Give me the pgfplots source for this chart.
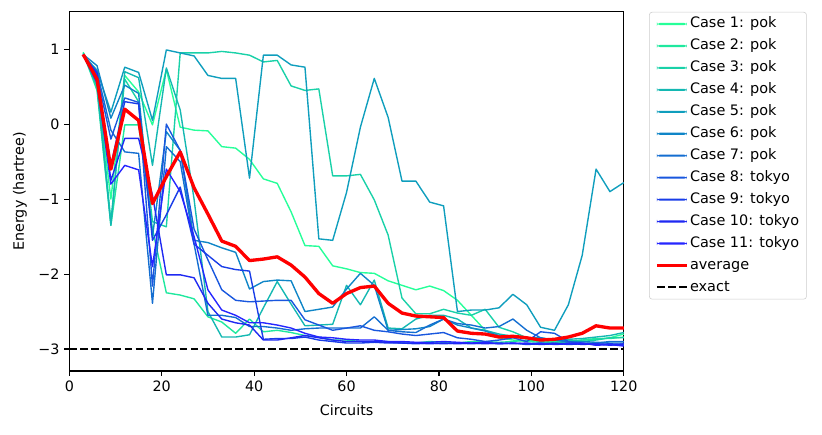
\documentclass[border=0pt]{standalone}
\usepackage{fontspec}
\setmainfont{DejaVu Sans}
\usepackage{pgfplots}
\usepackage{pgfplotstable}
\pgfplotsset{compat=1.18}

\definecolor{c1}{rgb}{0.15,1,0.6}
\definecolor{c2}{rgb}{0.12,0.91,0.62}
\definecolor{c3}{rgb}{0.1,0.82,0.66}
\definecolor{c4}{rgb}{0.08,0.72,0.7}
\definecolor{c5}{rgb}{0.06,0.62,0.74}
\definecolor{c6}{rgb}{0.06,0.52,0.78}
\definecolor{c7}{rgb}{0.08,0.43,0.82}
\definecolor{c8}{rgb}{0.1,0.34,0.87}
\definecolor{c9}{rgb}{0.1,0.24,0.91}
\definecolor{c10}{rgb}{0.12,0.16,0.95}
\definecolor{c11}{rgb}{0.15,0.15,1}

\pgfplotsset{
  caseleg/.style={line width=1pt,
    legend image code/.code={\fill[##1, draw=none] (0pt,-0.75pt) rectangle (21.6pt,0.75pt);}},
}

\pgfplotstableread{
x c1 c2 c3 c4 c5 c6 c7 c8 c9 c10 c11 avg
3 0.96 0.95 0.93 0.94 0.92 0.93 0.92 0.93 0.92 0.91 0.92 0.93
6 0.55 0.45 0.62 0.50 0.72 0.78 0.70 0.65 0.60 0.68 0.55 0.60
9 -1.00 -1.35 -1.30 -1.35 0.16 0.08 -0.08 -0.20 -0.55 -0.75 -0.80 -0.60
12 0.65 -0.01 0.60 0.70 0.76 0.52 -0.37 0.35 0.30 -0.19 -0.55 0.20
15 0.43 -0.01 0.30 0.62 0.69 0.41 -0.39 0.29 0.27 -0.19 -0.61 0.05
18 -0.01 -1.40 -1.30 -0.55 0.05 -1.50 -2.39 -2.16 -1.55 -0.95 -1.90 -1.06
21 0.73 -2.25 -1.37 0.75 0.99 -0.10 -0.30 0.00 -1.21 -2.01 -0.60 -0.70
24 -0.04 -2.28 0.95 0.19 0.95 -0.35 -0.50 -0.35 -0.84 -2.01 -0.90 -0.37
27 -0.08 -2.33 0.95 -1.00 0.91 -1.55 -1.60 -1.40 -1.60 -2.05 -1.50 -0.85
30 -0.09 -2.57 0.95 -2.50 0.65 -1.58 -2.55 -1.81 -1.75 -2.39 -2.21 -1.20
33 -0.30 -2.64 0.97 -2.84 0.61 -1.65 -2.55 -2.21 -1.90 -2.60 -2.48 -1.56
36 -0.32 -2.79 0.95 -2.84 0.61 -1.71 -2.58 -2.35 -1.94 -2.65 -2.55 -1.63
39 -0.47 -2.60 0.92 -2.81 -0.72 -2.20 -2.70 -2.37 -1.96 -2.68 -2.65 -1.82
42 -0.73 -2.77 0.83 -2.45 0.92 -2.10 -2.70 -2.36 -2.87 -2.88 -2.65 -1.80
45 -0.79 -2.75 0.85 -2.10 0.92 -2.08 -2.72 -2.35 -2.86 -2.88 -2.68 -1.77
48 -1.17 -2.78 0.51 -2.40 0.79 -2.09 -2.75 -2.35 -2.86 -2.85 -2.72 -1.88
51 -1.62 -2.82 0.45 -2.69 0.76 -2.50 -2.73 -2.61 -2.84 -2.82 -2.79 -2.04
54 -1.63 -2.84 0.47 -2.68 -1.53 -2.47 -2.72 -2.68 -2.88 -2.85 -2.84 -2.26
57 -1.89 -2.88 -0.69 -2.67 -1.55 -2.44 -2.72 -2.75 -2.90 -2.88 -2.85 -2.39
60 -1.93 -2.88 -0.69 -2.15 -0.91 -2.20 -2.72 -2.72 -2.92 -2.90 -2.87 -2.26
63 -1.98 -2.90 -0.67 -2.41 -0.04 -1.99 -2.72 -2.69 -2.92 -2.90 -2.88 -2.18
66 -1.99 -2.90 -1.01 -2.08 0.61 -2.15 -2.57 -2.75 -2.91 -2.90 -2.88 -2.16
69 -2.09 -2.90 -1.48 -2.72 0.09 -2.75 -2.75 -2.77 -2.92 -2.91 -2.90 -2.39
72 -2.15 -2.92 -2.32 -2.73 -0.76 -2.74 -2.77 -2.80 -2.92 -2.92 -2.90 -2.52
75 -2.21 -2.92 -2.53 -2.60 -0.76 -2.73 -2.78 -2.82 -2.93 -2.92 -2.91 -2.56
78 -2.16 -2.90 -2.53 -2.55 -1.04 -2.70 -2.68 -2.80 -2.92 -2.93 -2.91 -2.57
81 -2.22 -2.91 -2.47 -2.55 -1.09 -2.60 -2.60 -2.78 -2.93 -2.92 -2.90 -2.58
84 -2.35 -2.92 -2.52 -2.60 -2.50 -2.68 -2.66 -2.85 -2.92 -2.93 -2.91 -2.76
87 -2.55 -2.90 -2.55 -2.72 -2.48 -2.72 -2.68 -2.87 -2.93 -2.92 -2.92 -2.79
90 -2.75 -2.90 -2.47 -2.75 -2.48 -2.76 -2.72 -2.90 -2.92 -2.93 -2.91 -2.80
93 -2.85 -2.91 -2.71 -2.80 -2.45 -2.82 -2.70 -2.88 -2.93 -2.92 -2.93 -2.84
96 -2.88 -2.90 -2.77 -2.83 -2.27 -2.84 -2.60 -2.85 -2.92 -2.93 -2.92 -2.83
99 -2.90 -2.88 -2.85 -2.85 -2.41 -2.85 -2.75 -2.90 -2.94 -2.92 -2.93 -2.85
102 -2.91 -2.90 -2.87 -2.85 -2.71 -2.86 -2.85 -2.77 -2.93 -2.94 -2.92 -2.88
105 -2.90 -2.92 -2.89 -2.88 -2.75 -2.88 -2.88 -2.79 -2.92 -2.93 -2.94 -2.87
108 -2.91 -2.90 -2.88 -2.87 -2.41 -2.90 -2.90 -2.90 -2.94 -2.92 -2.93 -2.84
111 -2.88 -2.88 -2.90 -2.86 -1.75 -2.90 -2.92 -2.93 -2.93 -2.94 -2.92 -2.79
114 -2.87 -2.86 -2.88 -2.84 -0.60 -2.91 -2.92 -2.93 -2.94 -2.93 -2.95 -2.69
117 -2.85 -2.86 -2.85 -2.82 -0.90 -2.92 -2.90 -2.94 -2.93 -2.95 -2.94 -2.72
120 -2.80 -2.84 -2.85 -2.78 -0.78 -2.92 -2.90 -2.95 -2.94 -2.93 -2.96 -2.72
}\data

\begin{document}
\begin{tikzpicture}
\begin{axis}[
  at={(0pt,0pt)}, anchor=south west,
  scale only axis, width=399.2pt, height=258.5pt,
  xmin=0, xmax=120, ymin=-3.293, ymax=1.497,
  xtick={0,20,40,60,80,100,120},
  ytick={-3,-2,-1,0,1},
  yticklabels={−3,−2,−1,0,1},
  /pgf/number format/assume math mode=true,
  tick align=outside, tick pos=left,
  major tick length=3.5pt,
  every tick/.style={black, line width=0.8pt},
  axis line style={line width=0.8pt},
  font=\fontsize{10.3}{12}\selectfont,
  xlabel={Circuits}, ylabel={Energy (hartree)},
  xlabel style={at={(axis description cs:0.5,-0.1086)}, anchor=center},
  ylabel style={at={(axis description cs:-0.089,0.5)}, anchor=center},
  legend cell align=left,
  legend image code/.code={\draw[#1] (0pt,0pt) -- (21.6pt,0pt);},
  legend style={at={(1.0456,1)}, anchor=north west,
    draw=black!20, rounded corners=2pt, fill=white,
    font=\fontsize{10.4}{12}\selectfont,
    inner xsep=4.3pt, inner ysep=0.6pt, row sep=0pt,
    nodes={inner xsep=1pt, inner ysep=2.65pt, text height=8pt, text depth=2.5pt},
    /tikz/every even column/.append style={column sep=9pt}},
  every axis plot/.append style={line join=round},
]
\addplot[c1, caseleg] table[x=x, y=c1] {\data};
\addlegendentry{Case 1: pok}
\addplot[c2, caseleg] table[x=x, y=c2] {\data};
\addlegendentry{Case 2: pok}
\addplot[c3, caseleg] table[x=x, y=c3] {\data};
\addlegendentry{Case 3: pok}
\addplot[c4, caseleg] table[x=x, y=c4] {\data};
\addlegendentry{Case 4: pok}
\addplot[c5, caseleg] table[x=x, y=c5] {\data};
\addlegendentry{Case 5: pok}
\addplot[c6, caseleg] table[x=x, y=c6] {\data};
\addlegendentry{Case 6: pok}
\addplot[c7, caseleg] table[x=x, y=c7] {\data};
\addlegendentry{Case 7: pok}
\addplot[c8, caseleg] table[x=x, y=c8] {\data};
\addlegendentry{Case 8: tokyo}
\addplot[c9, caseleg] table[x=x, y=c9] {\data};
\addlegendentry{Case 9: tokyo}
\addplot[c10, caseleg] table[x=x, y=c10] {\data};
\addlegendentry{Case 10: tokyo}
\addplot[c11, caseleg] table[x=x, y=c11] {\data};
\addlegendentry{Case 11: tokyo}
\addplot[red, line width=2.4pt] table[x=x, y=avg] {\data};
\addlegendentry{average}
\addplot[black, line width=1.5pt, dash pattern=on 5.55pt off 2.4pt] coordinates {(0,-3) (120,-3)};
\addlegendentry{exact}
\end{axis}
\pgfresetboundingbox
\useasboundingbox (-49.9pt,-45.4pt) rectangle (541.9pt,267.1pt);
\end{tikzpicture}
\end{document}
